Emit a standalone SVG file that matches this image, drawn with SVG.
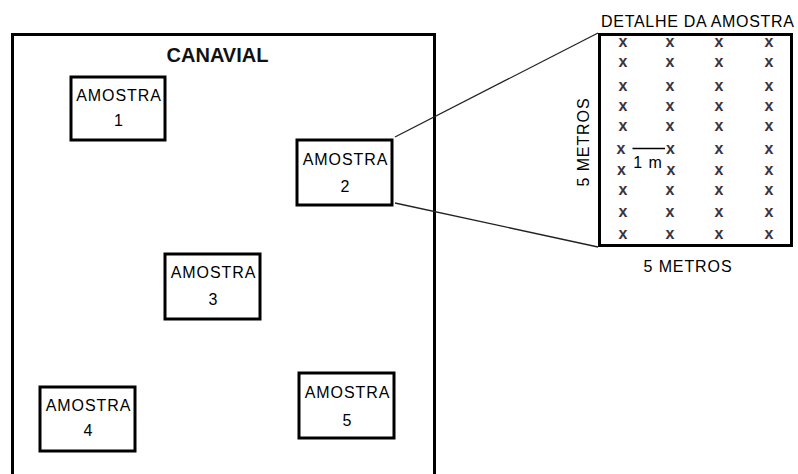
<svg xmlns="http://www.w3.org/2000/svg" width="798" height="474" viewBox="0 0 798 474">
  <style>
    .frame { fill: #fff; stroke: #000; stroke-width: 3; }
    .lbl { font-family: "Liberation Sans", Arial, sans-serif; font-size: 16px; letter-spacing: 0.9px; fill: #000; text-anchor: middle; }
    .ttl { font-family: "Liberation Sans", Arial, sans-serif; font-size: 20px; font-weight: bold; fill: #111; text-anchor: middle; }
    .link { stroke: #222; stroke-width: 1.3; fill: none; }
    .plant { font-family: "Liberation Sans", Arial, sans-serif; font-size: 16px; font-weight: bold; fill: #3a3340; text-anchor: middle; }
  </style>
  <rect width="798" height="474" fill="#fff"/>

  <!-- field outline (runs past the bottom edge) -->
  <g id="canavial">
    <rect class="frame" x="12.5" y="34.5" width="422" height="460"/>
    <text class="ttl" x="217.5" y="62">CANAVIAL</text>
  </g>

  <!-- connectors from sample 2 to the detail box -->
  <g id="connectors">
    <line class="link" x1="395" y1="137" x2="598" y2="33"/>
    <line class="link" x1="395" y1="203" x2="598" y2="247"/>
  </g>

  <g id="amostra1">
    <rect class="frame" x="71" y="77" width="94" height="63"/>
    <text class="lbl" x="119" y="101">AMOSTRA</text>
    <text class="lbl" x="119" y="126">1</text>
  </g>
  <g id="amostra2">
    <rect class="frame" x="297" y="140" width="95" height="65"/>
    <text class="lbl" x="345.5" y="165">AMOSTRA</text>
    <text class="lbl" x="345.5" y="192">2</text>
  </g>
  <g id="amostra3">
    <rect class="frame" x="165" y="254" width="95" height="65"/>
    <text class="lbl" x="213.5" y="278">AMOSTRA</text>
    <text class="lbl" x="213.5" y="305">3</text>
  </g>
  <g id="amostra4">
    <rect class="frame" x="40" y="387" width="95" height="64"/>
    <text class="lbl" x="88.5" y="411">AMOSTRA</text>
    <text class="lbl" x="88.5" y="436">4</text>
  </g>
  <g id="amostra5">
    <rect class="frame" x="299" y="373" width="95" height="65"/>
    <text class="lbl" x="347.5" y="398">AMOSTRA</text>
    <text class="lbl" x="347.5" y="426">5</text>
  </g>

  <!-- sample detail: 4 rows of cane, 10 plants each -->
  <g id="detalhe">
    <text class="lbl" x="601" y="27" style="text-anchor:start;letter-spacing:0.7px">DETALHE DA AMOSTRA</text>
    <rect class="frame" x="599.5" y="34.5" width="192" height="211"/>
    <text class="lbl" transform="translate(589,142) rotate(-90)">5 METROS</text>
    <text class="lbl" x="688" y="272">5 METROS</text>

    <g id="plantas">
      <text class="plant" x="623" y="47">x</text><text class="plant" x="670" y="47">x</text><text class="plant" x="719" y="47">x</text><text class="plant" x="769" y="47">x</text>
      <text class="plant" x="623" y="67">x</text><text class="plant" x="670" y="67">x</text><text class="plant" x="719" y="67">x</text><text class="plant" x="769" y="67">x</text>
      <text class="plant" x="623" y="91">x</text><text class="plant" x="670" y="91">x</text><text class="plant" x="719" y="91">x</text><text class="plant" x="769" y="91">x</text>
      <text class="plant" x="623" y="111">x</text><text class="plant" x="670" y="111">x</text><text class="plant" x="719" y="111">x</text><text class="plant" x="769" y="111">x</text>
      <text class="plant" x="623" y="131">x</text><text class="plant" x="670" y="131">x</text><text class="plant" x="719" y="131">x</text><text class="plant" x="769" y="131">x</text>
      <text class="plant" x="621" y="154">x</text><text class="plant" x="670.5" y="154">x</text><text class="plant" x="719" y="154">x</text><text class="plant" x="769" y="154">x</text>
      <text class="plant" x="621.5" y="175">x</text><text class="plant" x="671" y="175">x</text><text class="plant" x="719" y="175">x</text><text class="plant" x="769" y="175">x</text>
      <text class="plant" x="623" y="195">x</text><text class="plant" x="670" y="195">x</text><text class="plant" x="719" y="195">x</text><text class="plant" x="769" y="195">x</text>
      <text class="plant" x="623" y="217">x</text><text class="plant" x="670" y="217">x</text><text class="plant" x="719" y="217">x</text><text class="plant" x="769" y="217">x</text>
      <text class="plant" x="623" y="239">x</text><text class="plant" x="670" y="239">x</text><text class="plant" x="719" y="239">x</text><text class="plant" x="769" y="239">x</text>
    </g>

    <!-- spacing between rows -->
    <line x1="632.5" y1="148.5" x2="665" y2="148.5" stroke="#000" stroke-width="1.3"/>
    <text class="lbl" x="648" y="168">1 m</text>
  </g>
</svg>
